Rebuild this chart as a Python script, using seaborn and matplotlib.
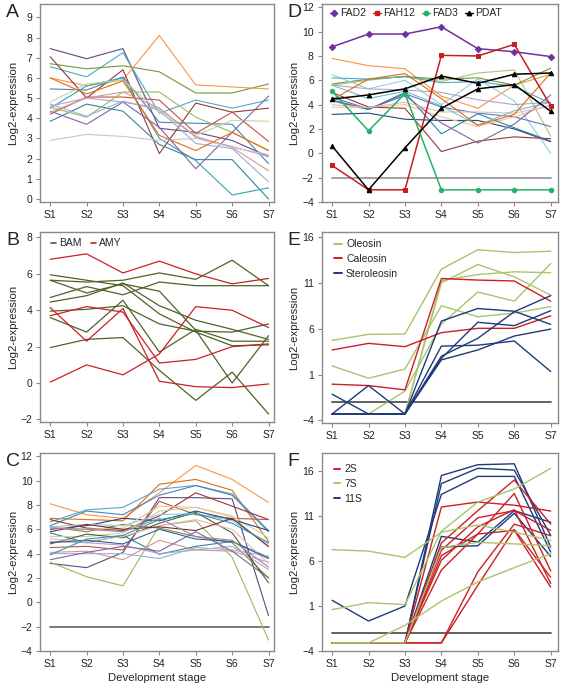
import pandas as pd
import matplotlib
matplotlib.use('Agg')
import matplotlib.pyplot as plt
import seaborn as sns
from matplotlib.lines import Line2D

sns.set_style('white')
plt.rcParams['font.family'] = ['Liberation Sans', 'DejaVu Sans']

stages = ['S1', 'S2', 'S3', 'S4', 'S5', 'S6', 'S7']
stage_no = [1, 2, 3, 4, 5, 6, 7]
baseline = [-2, -2, -2, -2, -2, -2, -2]

# panel A
a_lines = [
    [7.45, 6.95, 7.45, 3.5, 3.3, 2.9, 2.1],
    [6.55, 6.05, 7.25, 4.25, 4.9, 4.5, 4.9],
    [6.7, 6.45, 6.6, 6.3, 5.25, 5.25, 5.7],
    [6.0, 5.6, 5.9, 8.1, 5.65, 5.55, 5.45],
    [7.05, 5.0, 6.4, 2.25, 4.75, 4.3, 4.5],
    [4.2, 5.05, 5.05, 4.9, 3.25, 4.3, 2.85],
    [5.45, 5.4, 6.05, 3.8, 3.75, 3.7, 1.75],
    [3.85, 4.7, 4.35, 2.7, 1.95, 1.95, 0.0],
    [4.5, 5.6, 6.0, 3.0, 1.9, 0.2, 0.55],
    [4.8, 5.7, 5.9, 4.3, 3.15, 3.9, 3.85],
    [4.55, 4.05, 5.3, 5.3, 4.05, 3.3, 2.4],
    [4.35, 3.7, 4.8, 3.55, 1.5, 3.3, 5.1],
    [4.6, 5.0, 4.8, 4.5, 3.05, 2.6, 2.1],
    [4.3, 5.0, 5.3, 4.5, 3.1, 2.55, 1.4],
    [2.9, 3.2, 3.1, 2.9, 3.0, 2.55, 2.2],
    [4.7, 4.1, 4.85, 4.4, 2.75, 2.5, 0.85],
    [6.0, 5.2, 5.85, 3.15, 2.4, 3.3, 2.4],
]
a_colors = ['#604A7B', '#4BACC6', '#77933C', '#F79646', '#953735', '#C0504D',
            '#4F81BD', '#31859C', '#37A0B8', '#C3D69B', '#9BBB59', '#8064A2',
            '#B3A2C7', '#D99694', '#CCC1DA', '#95B3D7', '#E46C0A']

# panel B
bam_lines = [
    [5.65, 5.55, 5.65, 6.05, 5.7, 6.75, 5.35],
    [4.7, 5.3, 4.85, 5.55, 5.35, 5.35, 5.35],
    [4.45, 4.8, 5.5, 4.25, 3.45, 2.95, 2.4],
    [5.95, 5.65, 5.35, 3.8, 2.8, 2.05, 2.1],
    [5.65, 4.95, 5.45, 5.05, 2.9, 0.0, 2.6],
    [3.95, 4.05, 4.25, 3.25, 2.85, 2.8, 3.25],
    [3.6, 2.8, 4.55, 1.7, 2.95, 2.3, 2.3],
    [1.95, 2.4, 2.5, 0.7, -0.95, 0.6, -1.7],
]
amy_lines = [
    [6.8, 7.1, 6.05, 6.7, 6.0, 5.45, 5.75],
    [4.15, 2.3, 4.1, 0.1, -0.2, -0.25, -0.05],
    [3.7, 4.2, 3.9, 1.1, 1.3, 2.0, 2.15],
    [0.05, 1.0, 0.45, 1.6, 4.2, 4.0, 3.05],
]

# panel C
c_lines = [
    [8.1, 7.2, 6.9, 9.0, 11.25, 10.1, 8.2],
    [6.9, 6.8, 6.7, 9.7, 10.1, 9.2, 5.0],
    [6.6, 7.6, 7.8, 9.3, 9.6, 8.9, 5.9],
    [6.3, 7.5, 7.2, 8.8, 9.6, 8.8, 5.8],
    [3.2, 2.85, 4.1, 8.6, 8.6, 8.5, -1.1],
    [3.3, 2.1, 1.35, 6.3, 6.7, 3.7, -3.1],
    [6.8, 6.1, 5.9, 7.1, 9.0, 7.9, 6.8],
    [4.5, 4.6, 4.3, 8.3, 7.2, 6.9, 6.8],
    [6.2, 5.8, 6.4, 6.1, 5.4, 4.9, 2.0],
    [5.7, 4.9, 5.5, 3.95, 4.6, 5.0, 3.7],
    [5.0, 4.9, 4.7, 4.0, 4.3, 4.6, 2.7],
    [4.1, 4.2, 3.5, 5.1, 4.3, 4.2, 3.3],
    [4.0, 4.0, 4.0, 3.6, 4.5, 4.3, 3.8],
    [3.5, 4.1, 4.6, 4.2, 5.8, 4.2, 2.0],
    [5.4, 5.4, 5.7, 7.5, 7.8, 7.1, 5.3],
    [6.0, 6.3, 6.9, 6.7, 7.5, 6.8, 5.9],
    [4.8, 5.6, 5.3, 6.5, 7.4, 5.7, 1.6],
    [6.2, 6.0, 6.1, 7.9, 7.8, 7.0, 4.5],
    [5.2, 5.0, 5.4, 6.3, 6.8, 6.0, 3.2],
    [6.2, 6.4, 6.3, 7.2, 7.3, 6.7, 4.8],
    [4.9, 5.1, 4.8, 6.0, 5.2, 5.0, 3.6],
    [5.8, 6.4, 6.0, 6.2, 5.9, 6.9, 4.6],
    [3.9, 5.2, 5.5, 6.8, 7.3, 6.5, 4.9],
    [6.1, 6.0, 5.8, 6.9, 5.4, 5.1, 2.9],
]
c_colors = ['#F79646', '#E46C0A', '#4BACC6', '#4F81BD', '#604A7B', '#9BBB59',
            '#953735', '#C0504D', '#77933C', '#31859C', '#B3A2C7', '#D99694',
            '#95B3D7', '#8064A2', '#C3D69B', '#1F497D', '#4F6228', '#FAC090',
            '#E6B9B8', '#93CDDD', '#376092', '#772C2A', '#2E9CB5', '#9983B5']

# panel D
d_lines = [
    [7.8, 7.2, 6.95, 4.7, 3.7, 5.6, 6.5],
    [5.6, 6.0, 6.35, 5.9, 6.6, 6.85, 1.4],
    [5.7, 6.1, 6.3, 6.1, 6.2, 5.6, 7.0],
    [6.45, 5.3, 6.0, 4.0, 6.1, 4.3, 0.0],
    [6.2, 6.1, 6.3, 5.8, 5.9, 5.5, 4.1],
    [5.6, 5.3, 5.2, 5.0, 4.4, 4.0, 4.2],
    [4.3, 3.6, 4.9, 3.8, 3.3, 3.0, 2.2],
    [3.2, 3.3, 2.8, 2.7, 2.7, 2.0, 0.95],
    [3.8, 3.75, 4.0, 3.0, 2.2, 3.0, 4.0],
    [5.0, 3.8, 3.7, 0.15, 1.0, 1.35, 1.2],
    [4.6, 3.65, 4.75, 2.5, 0.85, 2.4, 4.8],
    [4.4, 3.6, 5.0, 1.6, 3.25, 2.1, 1.0],
    [4.0, 3.75, 4.2, 3.4, 3.4, 3.3, 3.9],
    [5.6, 4.5, 5.1, 3.9, 2.3, 3.5, 4.2],
    [4.4, 6.1, 6.55, 4.5, 2.3, 3.2, 6.6],
]
d_colors = ['#F79646', '#A9C47F', '#77933C', '#93CDDD', '#4BACC6', '#B3A2C7',
            '#4F81BD', '#1F497D', '#FAC090', '#953735', '#8064A2', '#31859C',
            '#E6B9B8', '#6FBDD1', '#E46C0A']
fad2 = [8.75, 9.8, 9.8, 10.4, 8.6, 8.35, 7.95]
fah12 = [-1.0, -3.0, -3.0, 8.05, 8.0, 8.95, 3.9]
fad3 = [5.1, 1.85, 4.9, -3.0, -3.0, -3.0, -3.0]
pdat_1 = [0.6, -3.0, 0.45, 3.7, 5.3, 5.65, 3.45]
pdat_2 = [4.45, 4.8, 5.3, 6.35, 5.75, 6.5, 6.6]

# panel E
oleosin = [
    [4.73, 5.38, 5.42, 12.5, 14.6, 14.3, 14.45],
    [1.94, 0.6, 1.6, 8.5, 7.3, 7.7, 8.4],
    [-3.3, -3.3, -3.3, 11.25, 11.9, 12.2, 12.1],
    [-3.3, -3.3, -3.3, 11.0, 13.0, 11.65, 9.66],
    [-3.3, -3.3, -0.8, 6.5, 10.0, 9.0, 13.1],
]
caleosin = [
    [3.68, 4.4, 4.04, 5.57, 6.04, 6.04, 7.4],
    [-0.05, -0.2, -0.67, 11.47, 11.3, 11.2, 9.0],
]
steroleosin = [
    [-1.14, -3.3, -3.3, 6.83, 8.2, 7.9, 6.47],
    [-3.3, -0.2, -3.3, 4.1, 4.2, 4.66, 1.33],
    [-3.3, -3.3, -3.3, 2.77, 6.7, 6.33, 7.96],
    [-3.3, -3.3, -3.3, 2.6, 3.68, 5.2, 5.96],
    [-3.3, -3.3, -3.3, 3.0, 4.95, 7.85, 9.6],
]

# panel F
s2_lines = [
    [-3.1, -3.1, -3.1, 12.0, 12.55, 12.2, 11.55],
    [-3.1, -3.1, -3.1, 8.0, 11.6, 15.0, 10.1],
    [-3.1, -3.1, -3.1, 6.6, 9.0, 13.5, 4.9],
    [-3.1, -3.1, -3.1, 6.1, 9.8, 11.7, 3.5],
    [-3.1, -3.1, -3.1, 5.0, 9.0, 9.4, 3.1],
    [-3.1, -3.1, -3.1, -3.1, 4.8, 10.1, 8.8],
    [-3.1, -3.1, -3.1, -3.1, 3.3, 9.5, 4.2],
    [-3.1, -3.1, -3.1, 7.2, 10.8, 11.6, 9.4],
]
s7_lines = [
    [7.26, 7.1, 6.4, 9.2, 10.0, 9.2, 8.3],
    [0.6, 1.37, 1.15, 9.3, 12.55, 14.0, 16.3],
    [-3.1, -3.1, -1.15, 1.55, 3.67, 5.26, 6.8],
    [-3.1, -3.1, -3.1, 7.5, 8.07, 7.9, 7.7],
]
s11_lines = [
    [1.63, -0.67, 1.0, 13.4, 15.4, 15.4, 7.0],
    [-3.1, -3.1, -3.1, 14.6, 16.3, 16.1, 8.85],
    [-3.1, -3.1, -3.1, 15.5, 16.7, 16.8, 7.55],
    [-3.1, -3.1, -3.1, 8.74, 8.1, 11.6, 10.3],
    [-3.1, -3.1, -3.1, 7.55, 7.7, 11.3, 6.5],
]

GREEN = '#A9C46C'
RED = '#CC1F24'
NAVY = '#1F3A7A'
OLIVE = '#4F6228'
GRAY = '#8a8a8a'


def to_long(lines, prefix):
    rows = []
    for i, vals in enumerate(lines):
        for st, v in zip(stage_no, vals):
            rows.append((f'{prefix}{i}', st, v))
    return pd.DataFrame(rows, columns=['gene', 'stage', 'value'])


def group_long(groups):
    frames = []
    for grp, lines in groups.items():
        df = to_long(lines, grp)
        df['group'] = grp
        frames.append(df)
    return pd.concat(frames, ignore_index=True)


def draw_base(ax, color='#707070'):
    sns.lineplot(x=stage_no, y=baseline, color=color, lw=1.3, ax=ax)


def style(ax, xlim, ylim, yticks, letter, lab_x, xlabel=False):
    ax.set_xlim(*xlim)
    ax.set_ylim(*ylim)
    ax.set_xticks(stage_no)
    ax.set_xticklabels(stages)
    ax.set_yticks(yticks)
    for s in ax.spines.values():
        s.set_color(GRAY)
        s.set_linewidth(1.0)
    ax.tick_params(bottom=True, left=True, direction='out', length=3, width=0.8,
                   color=GRAY, labelsize=7.5, pad=2.5, labelcolor='#222222')
    ax.set_ylabel('Log2-expression', fontsize=8.2)
    ax.yaxis.set_label_coords(lab_x, 0.5)
    if xlabel:
        ax.set_xlabel('Development stage', fontsize=8.2)
        ax.xaxis.set_label_coords(0.5, -0.11)
    else:
        ax.set_xlabel('')
    ax.text(-0.145, 1.0, letter, transform=ax.transAxes,
            fontsize=14, va='top', ha='left')


fig = plt.figure(figsize=(5.63, 6.91), dpi=100)
W, H = 563, 691


def axes_px(x0, x1, y0, y1):
    return fig.add_axes([x0 / W, 1 - y1 / H, (x1 - x0) / W, (y1 - y0) / H])


axA = axes_px(40, 274, 4, 202)
axB = axes_px(40, 274, 232, 422)
axC = axes_px(40, 274, 453, 651)
axD = axes_px(321.5, 558, 4, 202)
axE = axes_px(321.5, 558, 232, 423)
axF = axes_px(321.5, 558, 453, 651)

left_x = (0.72, 7.15)
right_x = (0.71, 7.2)

# A
dfA = to_long(a_lines, 'a')
sns.lineplot(data=dfA, x='stage', y='value', hue='gene', palette=a_colors,
             lw=0.8, legend=False, ax=axA)
style(axA, left_x, (-0.15, 9.66), range(0, 10), 'A', -0.094)

# B
dfB = group_long({'BAM': bam_lines, 'AMY': amy_lines})
sns.lineplot(data=dfB, x='stage', y='value', hue='group', units='gene',
             estimator=None, palette={'BAM': OLIVE, 'AMY': RED}, lw=0.9,
             legend=False, ax=axB)
style(axB, left_x, (-2.14, 8.3), range(-2, 9, 2), 'B', -0.094)
axB.legend(handles=[Line2D([], [], color=OLIVE, lw=1.2, label='BAM'),
                    Line2D([], [], color=RED, lw=1.2, label='AMY')],
           loc='upper left', bbox_to_anchor=(0.02, 1.0), ncol=2, frameon=False,
           fontsize=7.5, handlelength=0.5, handletextpad=0.3, columnspacing=0.9,
           borderaxespad=0.2)

# C
draw_base(axC)
dfC = to_long(c_lines, 'c')
sns.lineplot(data=dfC, x='stage', y='value', hue='gene', palette=c_colors,
             lw=0.8, legend=False, ax=axC)
style(axC, left_x, (-4, 12.27), range(-4, 13, 2), 'C', -0.094, xlabel=True)

# D
draw_base(axD, '#9a9a9a')
dfD = to_long(d_lines, 'd')
sns.lineplot(data=dfD, x='stage', y='value', hue='gene', palette=d_colors,
             lw=0.8, legend=False, ax=axD)
marked = [(fad2, '#7030A0', 'D', 'FAD2'), (fah12, '#C81E1E', 's', 'FAH12'),
          (fad3, '#22B36A', 'o', 'FAD3'), (pdat_1, 'black', '^', 'PDAT'),
          (pdat_2, 'black', '^', None)]
for vals, col, mk, name in marked:
    sns.lineplot(x=stage_no, y=vals, color=col, marker=mk, markersize=3.2,
                 markeredgecolor=col, lw=1.1, ax=axD)
style(axD, right_x, (-4, 12.27), range(-4, 13, 2), 'D', -0.095)
axD.legend(handles=[Line2D([], [], color=c, marker=m, markersize=3.2, lw=1.0,
                           markeredgecolor=c, label=n)
                    for _, c, m, n in marked if n],
           loc='upper left', bbox_to_anchor=(0.01, 1.01), ncol=4, frameon=False,
           fontsize=7.5, handlelength=0.7, handletextpad=0.25,
           columnspacing=0.7, borderaxespad=0.2)

# E
draw_base(axE, '#555555')
dfE = group_long({'Oleosin': oleosin, 'Caleosin': caleosin,
                  'Steroleosin': steroleosin})
sns.lineplot(data=dfE, x='stage', y='value', hue='group', units='gene',
             estimator=None, palette={'Oleosin': GREEN, 'Caleosin': RED,
                                      'Steroleosin': NAVY},
             lw=1.0, legend=False, ax=axE)
style(axE, right_x, (-4.28, 16.54), range(-4, 17, 5), 'E', -0.095)
axE.legend(handles=[Line2D([], [], color=GREEN, lw=1.4, label='Oleosin'),
                    Line2D([], [], color=RED, lw=1.4, label='Caleosin'),
                    Line2D([], [], color=NAVY, lw=1.4, label='Steroleosin')],
           loc='upper left', bbox_to_anchor=(0.02, 1.0), frameon=False,
           fontsize=7.5, handlelength=0.8, handletextpad=0.4, labelspacing=0.45,
           borderaxespad=0.3)

# F
draw_base(axF, '#555555')
dfF = group_long({'11S': s11_lines, '2S': s2_lines, '7S': s7_lines})
sns.lineplot(data=dfF, x='stage', y='value', hue='group', units='gene',
             estimator=None, palette={'2S': RED, '7S': GREEN, '11S': NAVY},
             lw=1.0, legend=False, ax=axF)
style(axF, right_x, (-4, 18), range(-4, 17, 5), 'F', -0.095, xlabel=True)
axF.legend(handles=[Line2D([], [], color=RED, lw=1.4, label='2S'),
                    Line2D([], [], color=GREEN, lw=1.4, label='7S'),
                    Line2D([], [], color=NAVY, lw=1.4, label='11S')],
           loc='upper left', bbox_to_anchor=(0.02, 0.98), frameon=False,
           fontsize=7.5, handlelength=0.6, handletextpad=0.4, labelspacing=0.45,
           borderaxespad=0.3)

fig.savefig('out.png', dpi=100)
